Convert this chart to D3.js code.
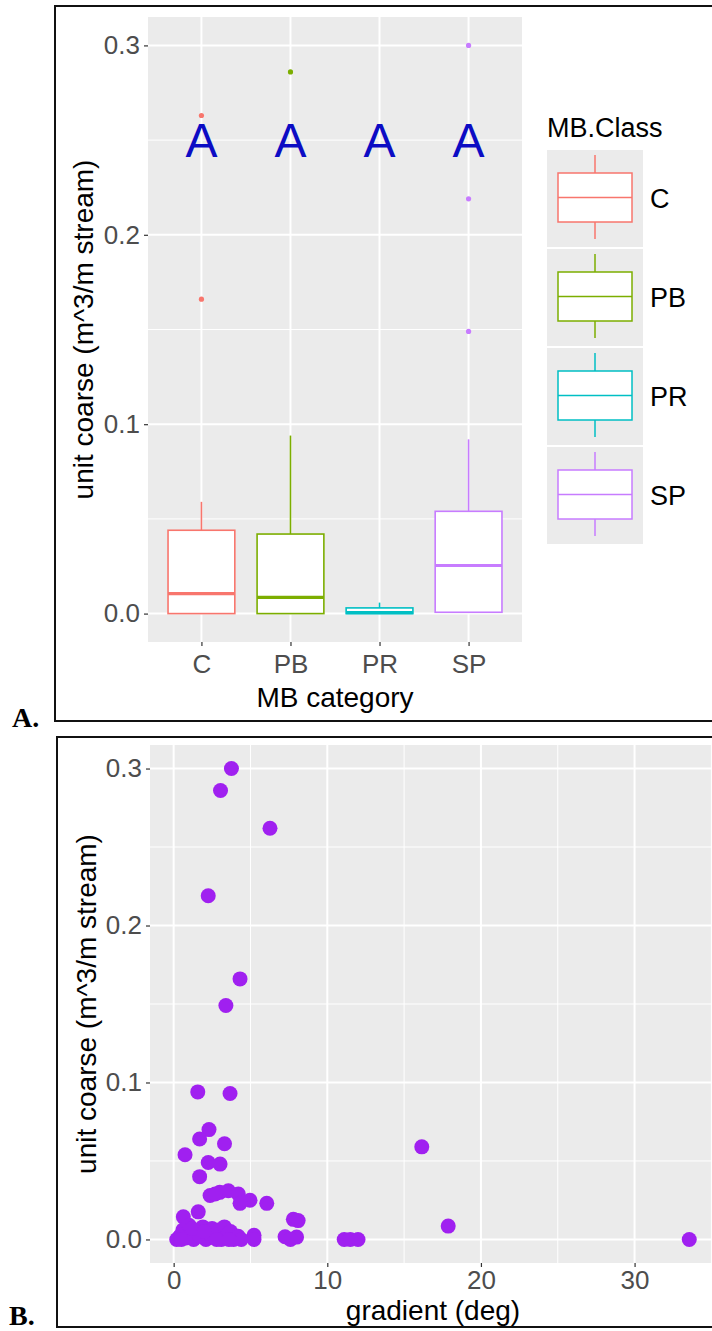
<!DOCTYPE html>
<html lang="en">
  <head>
    <meta charset="UTF-8" />
    <title>unit coarse - d3</title>
    <script src="https://d3js.org/d3.v7.min.js"></script>
  </head>
  <style>
    html,
    body {
      margin: 0;
      padding: 0;
      background: #fff;
    }
    svg text {
      font-family: "Liberation Sans", Arial, sans-serif;
    }
    svg text.tag {
      font-family: "Liberation Serif", "Times New Roman", serif;
      font-weight: bold;
    }
  </style>
  <body>
    <script>
      // box plot summary
      var categories = ["C", "PB", "PR", "SP"];
      var colors = ["#F8766D", "#7CAE00", "#00BFC4", "#C77CFF"];
      var whiskerLow = [0, 0, 0, 0.0007];
      var q1 = [0, 0, 0, 0.0007];
      var medians = [0.0105, 0.0086, 0.0005, 0.0254];
      var q3 = [0.044, 0.042, 0.003, 0.054];
      var whiskerHigh = [0.059, 0.094, 0.0058, 0.092];
      var outliers = [[0.166, 0.263], [0.286], [], [0.149, 0.219, 0.3]];
      var groupLetters = ["A", "A", "A", "A"];

      // scatter, panel B
      var gradient = [
        3.76, 3.05, 6.27, 2.25, 4.32, 3.4, 1.57, 3.67, 2.3, 1.69, 3.31, 16.15,
        0.74, 2.25, 3.02, 1.69, 2.37, 3.0, 3.56, 4.21, 2.7, 4.97, 4.32, 6.06,
        0.63, 1.6, 7.79, 8.1, 17.87, 33.56, 5.23, 5.23, 7.25, 8.0, 7.6, 11.1,
        11.5, 12.0, 0.2, 0.4, 0.6, 0.8, 1.0, 1.1, 1.3, 1.5, 1.7, 1.9, 2.1, 2.3,
        2.5, 2.7, 2.9, 3.1, 3.3, 3.5, 3.7, 3.9, 4.2, 4.4, 0.5, 1.2, 2.0, 2.8,
        3.6
      ];
      var unitCoarse = [
        0.3, 0.286, 0.262, 0.219, 0.166, 0.149, 0.094, 0.093, 0.07, 0.064,
        0.061, 0.059, 0.054, 0.049, 0.048, 0.04, 0.028, 0.03, 0.031, 0.029,
        0.029, 0.025, 0.023, 0.023, 0.0144, 0.0176, 0.0128, 0.012, 0.0085, 0,
        0.0027, 0, 0.0017, 0.0015, 0, 0, 0, 0, 0, 0.002, 0.006, 0.001, 0.009,
        0.003, 0, 0.005, 0.002, 0.008, 0, 0.004, 0.007, 0.001, 0.006, 0,
        0.008, 0.003, 0.005, 0, 0.002, 0, 0, 0.007, 0.005, 0, 0
      ];
      var yTicks = [0, 0.1, 0.2, 0.3];
      var yMinor = [0.05, 0.15, 0.25];
      var xTicksB = [0, 10, 20, 30];
      var xMinorB = [5, 15, 25, 35];

      var svg = d3
        .select("body")
        .append("svg")
        .attr("width", 712)
        .attr("height", 1331);

      var panelFill = "#ebebeb";
      var titleSize = 28;

      // ---------- panel A ----------
      var A = { left: 148, right: 522, top: 17, bottom: 642 };
      var xA = d3
        .scalePoint()
        .domain(categories)
        .range([A.left, A.right])
        .padding(0.6);
      var yA = d3.scaleLinear().domain([-0.015, 0.315]).range([A.bottom, A.top]);
      var boxW = xA.step() * 0.75;

      svg
        .append("rect")
        .attr("x", 55)
        .attr("y", 6)
        .attr("width", 700)
        .attr("height", 715)
        .attr("fill", "none")
        .attr("stroke", "#111")
        .attr("stroke-width", 2);

      svg
        .append("rect")
        .attr("x", A.left)
        .attr("y", A.top)
        .attr("width", A.right - A.left)
        .attr("height", A.bottom - A.top)
        .attr("fill", panelFill);

      var gA = svg.append("g");
      gA.selectAll(".minor")
        .data(yMinor)
        .enter()
        .append("line")
        .attr("x1", A.left)
        .attr("x2", A.right)
        .attr("y1", yA)
        .attr("y2", yA)
        .attr("stroke", "#fff")
        .attr("stroke-width", 1);
      gA.selectAll(".major")
        .data(yTicks)
        .enter()
        .append("line")
        .attr("x1", A.left)
        .attr("x2", A.right)
        .attr("y1", yA)
        .attr("y2", yA)
        .attr("stroke", "#fff")
        .attr("stroke-width", 2);
      gA.selectAll(".vmajor")
        .data(categories)
        .enter()
        .append("line")
        .attr("x1", xA)
        .attr("x2", xA)
        .attr("y1", A.top)
        .attr("y2", A.bottom)
        .attr("stroke", "#fff")
        .attr("stroke-width", 2);

      var axisLeftA = d3.axisLeft(yA).tickValues(yTicks).tickFormat(d3.format(".1f")).tickSize(4).tickPadding(4);
      svg.append("g").attr("class", "axis").attr("transform", "translate(" + A.left + ",0)").call(axisLeftA);
      var axisBottomA = d3.axisBottom(xA).tickSize(4).tickPadding(9);
      svg.append("g").attr("class", "axis").attr("transform", "translate(0," + A.bottom + ")").call(axisBottomA);

      // boxes
      categories.forEach(function (c, i) {
        var cx = xA(c);
        var g = svg.append("g");
        g.append("line")
          .attr("x1", cx).attr("x2", cx)
          .attr("y1", yA(whiskerHigh[i])).attr("y2", yA(q3[i]))
          .attr("stroke", colors[i]).attr("stroke-width", 1.6);
        g.append("line")
          .attr("x1", cx).attr("x2", cx)
          .attr("y1", yA(q1[i])).attr("y2", yA(whiskerLow[i]))
          .attr("stroke", colors[i]).attr("stroke-width", 1.6);
        g.append("rect")
          .attr("x", cx - boxW / 2)
          .attr("y", yA(q3[i]))
          .attr("width", boxW)
          .attr("height", Math.max(yA(q1[i]) - yA(q3[i]), 0.5))
          .attr("fill", "#fff")
          .attr("stroke", colors[i])
          .attr("stroke-width", 1.6);
        g.append("line")
          .attr("x1", cx - boxW / 2).attr("x2", cx + boxW / 2)
          .attr("y1", yA(medians[i])).attr("y2", yA(medians[i]))
          .attr("stroke", colors[i]).attr("stroke-width", 3.2);
        g.selectAll("circle")
          .data(outliers[i])
          .enter()
          .append("circle")
          .attr("cx", cx)
          .attr("cy", yA)
          .attr("r", 2.6)
          .attr("fill", colors[i]);
      });

      svg
        .selectAll(".letter")
        .data(groupLetters)
        .enter()
        .append("text")
        .attr("x", function (d, i) {
          return xA(categories[i]);
        })
        .attr("y", yA(0.25))
        .attr("dy", "0.36em")
        .attr("text-anchor", "middle")
        .attr("font-size", 48)
        .attr("fill", "#0c0cc4")
        .text(function (d) {
          return d;
        });

      svg
        .append("text")
        .attr("transform", "translate(93," + (A.top + A.bottom) / 2 + ") rotate(-90)")
        .attr("text-anchor", "middle")
        .attr("font-size", titleSize)
        .attr("fill", "#000")
        .text("unit coarse (m^3/m stream)");
      svg
        .append("text")
        .attr("x", (A.left + A.right) / 2)
        .attr("y", 707)
        .attr("text-anchor", "middle")
        .attr("font-size", titleSize)
        .attr("fill", "#000")
        .text("MB category");

      // legend
      var legX = 547, legTop = 150, keyH = 99, keyW = 96;
      svg
        .append("text")
        .attr("x", legX)
        .attr("y", 137)
        .attr("font-size", 27)
        .attr("fill", "#000")
        .text("MB.Class");
      categories.forEach(function (c, i) {
        var ky = legTop + i * keyH;
        var kx = legX + keyW / 2;
        var g = svg.append("g");
        g.append("rect")
          .attr("x", legX).attr("y", ky)
          .attr("width", keyW).attr("height", keyH - 2)
          .attr("fill", panelFill);
        g.append("line")
          .attr("x1", kx).attr("x2", kx)
          .attr("y1", ky + 5).attr("y2", ky + keyH - 10)
          .attr("stroke", colors[i]).attr("stroke-width", 1.5);
        g.append("rect")
          .attr("x", legX + 11).attr("y", ky + 23)
          .attr("width", 74).attr("height", 49)
          .attr("fill", "#fff")
          .attr("stroke", colors[i]).attr("stroke-width", 1.5);
        g.append("line")
          .attr("x1", legX + 11).attr("x2", legX + 85)
          .attr("y1", ky + 47.5).attr("y2", ky + 47.5)
          .attr("stroke", colors[i]).attr("stroke-width", 1.5);
        g.append("text")
          .attr("x", legX + 103)
          .attr("y", ky + 58)
          .attr("font-size", 27)
          .attr("fill", "#000")
          .text(c);
      });

      // ---------- panel B ----------
      var B = { left: 150, right: 716, top: 745, bottom: 1263 };
      var xB = d3.scaleLinear().domain([-1.54, 35.3]).range([B.left, B.right]);
      var yB = d3.scaleLinear().domain([-0.015, 0.315]).range([B.bottom, B.top]);

      svg
        .append("rect")
        .attr("x", 57)
        .attr("y", 737)
        .attr("width", 700)
        .attr("height", 590)
        .attr("fill", "none")
        .attr("stroke", "#111")
        .attr("stroke-width", 2);

      svg
        .append("rect")
        .attr("x", B.left)
        .attr("y", B.top)
        .attr("width", B.right - B.left)
        .attr("height", B.bottom - B.top)
        .attr("fill", panelFill);

      var gB = svg.append("g");
      gB.selectAll(".hminor")
        .data(yMinor)
        .enter()
        .append("line")
        .attr("x1", B.left).attr("x2", B.right)
        .attr("y1", yB).attr("y2", yB)
        .attr("stroke", "#fff").attr("stroke-width", 1);
      gB.selectAll(".vminor")
        .data(xMinorB)
        .enter()
        .append("line")
        .attr("x1", xB).attr("x2", xB)
        .attr("y1", B.top).attr("y2", B.bottom)
        .attr("stroke", "#fff").attr("stroke-width", 1);
      gB.selectAll(".hmajor")
        .data(yTicks)
        .enter()
        .append("line")
        .attr("x1", B.left).attr("x2", B.right)
        .attr("y1", yB).attr("y2", yB)
        .attr("stroke", "#fff").attr("stroke-width", 2);
      gB.selectAll(".vmajor")
        .data(xTicksB)
        .enter()
        .append("line")
        .attr("x1", xB).attr("x2", xB)
        .attr("y1", B.top).attr("y2", B.bottom)
        .attr("stroke", "#fff").attr("stroke-width", 2);

      var axisLeftB = d3.axisLeft(yB).tickValues(yTicks).tickFormat(d3.format(".1f")).tickSize(4).tickPadding(4);
      svg.append("g").attr("class", "axis").attr("transform", "translate(" + B.left + ",0)").call(axisLeftB);
      var axisBottomB = d3.axisBottom(xB).tickValues(xTicksB).tickFormat(d3.format("d")).tickSize(4).tickPadding(4);
      svg.append("g").attr("class", "axis").attr("transform", "translate(0," + B.bottom + ")").call(axisBottomB);

      svg
        .append("g")
        .selectAll("circle")
        .data(gradient)
        .enter()
        .append("circle")
        .attr("cx", function (d) {
          return xB(d);
        })
        .attr("cy", function (d, i) {
          return yB(unitCoarse[i]);
        })
        .attr("r", 7.5)
        .attr("fill", "#A020F0");

      svg
        .append("text")
        .attr("transform", "translate(96," + (B.top + B.bottom) / 2 + ") rotate(-90)")
        .attr("text-anchor", "middle")
        .attr("font-size", titleSize)
        .attr("fill", "#000")
        .text("unit coarse (m^3/m stream)");
      svg
        .append("text")
        .attr("x", 433)
        .attr("y", 1320)
        .attr("text-anchor", "middle")
        .attr("font-size", titleSize)
        .attr("fill", "#000")
        .text("gradient (deg)");

      // panel tags
      svg
        .append("text")
        .attr("class", "tag")
        .attr("x", 12)
        .attr("y", 727)
        .attr("font-size", 28)
        .attr("fill", "#000")
        .text("A.");
      svg
        .append("text")
        .attr("class", "tag")
        .attr("x", 9)
        .attr("y", 1325)
        .attr("font-size", 28)
        .attr("fill", "#000")
        .text("B.");
    </script>

    <style>
      .axis path {
        display: none;
      }
      .axis line {
        stroke: #333;
        stroke-width: 1.2;
      }
      .axis text {
        font-family: "Liberation Sans", Arial, sans-serif;
        font-size: 26px;
        fill: #4d4d4d;
      }
    </style>
  </body>
</html>
